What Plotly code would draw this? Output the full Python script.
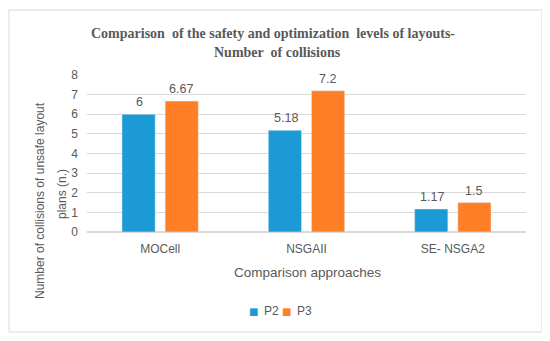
import plotly.graph_objects as go

categories = ["MOCell", "NSGAII", "SE- NSGA2"]
p2_values = [6, 5.18, 1.17]
p3_values = [6.67, 7.2, 1.5]
p2_labels = ["6", "5.18", "1.17"]
p3_labels = ["6.67", "7.2", "1.5"]
y_ticks = [0, 1, 2, 3, 4, 5, 6, 7, 8]

# the page body adds an 8px offset; figure is sized to fill the rest of the window
OFF = 8
W, H = 550 - OFF, 341 - OFF
L, R, T, B = 87 - OFF, 24, 75 - OFF, 109
PW, PH = W - L - R, H - T - B

def px_x(x):  # page pixel -> paper
    return (x - OFF - L) / PW

def px_y(y):
    return (H - B - (y - OFF)) / PH

gray = "#595959"
sans = "Liberation Sans"
blue = "#1C9AD6"
orange = "#FF7F27"

fig = go.Figure()
fig.add_trace(go.Bar(name="P2", x=categories, y=p2_values, marker_color=blue))
fig.add_trace(go.Bar(name="P3", x=categories, y=p3_values, marker_color=orange))

fig.update_layout(
    width=W, height=H,
    margin=dict(l=L, r=R, t=T, b=B, autoexpand=False),
    paper_bgcolor="white", plot_bgcolor="white",
    barmode="group", bargap=0.41, bargroupgap=0.23,
    font=dict(family=sans, color=gray, size=12),
    showlegend=False,
    xaxis=dict(showgrid=False, showline=False, ticks="", tickfont=dict(size=12, color=gray),
               ticklabelstandoff=8),
    yaxis=dict(range=[0, 8], tickvals=y_ticks, showgrid=True, gridcolor="#D9D9D9",
               gridwidth=1, zeroline=True, zerolinecolor="#D9D9D9", showline=False,
               ticks="", tickfont=dict(size=12, color=gray), ticklabelstandoff=8),
)

annotations = [
    dict(text="<b>Comparison  of the safety and optimization  levels of layouts-</b>",
         x=px_x(273), y=px_y(33), xref="paper", yref="paper", showarrow=False,
         xanchor="center", yanchor="middle",
         font=dict(family="Liberation Serif", size=14, color=gray)),
    dict(text="<b>Number  of collisions</b>",
         x=px_x(277), y=px_y(52), xref="paper", yref="paper", showarrow=False,
         xanchor="center", yanchor="middle",
         font=dict(family="Liberation Serif", size=14, color=gray)),
    dict(text="Number of collisions of unsafe layout",
         x=px_x(40), y=px_y(201), xref="paper", yref="paper", showarrow=False,
         xanchor="center", yanchor="middle", textangle=-90,
         font=dict(family=sans, size=12, color=gray)),
    dict(text="plans (n.)",
         x=px_x(62), y=px_y(194), xref="paper", yref="paper", showarrow=False,
         xanchor="center", yanchor="middle", textangle=-90,
         font=dict(family=sans, size=12, color=gray)),
    dict(text="Comparison approaches",
         x=px_x(307), y=px_y(272), xref="paper", yref="paper", showarrow=False,
         xanchor="center", yanchor="middle",
         font=dict(family=sans, size=13.5, color=gray)),
]

# legend (compact, like the original)
legend_items = [("P2", blue, 253, 262), ("P3", orange, 286, 295)]
for name, col, sx, tx in legend_items:
    annotations.append(dict(text="■", x=px_x(sx), y=px_y(311), xref="paper", yref="paper",
                            showarrow=False, xanchor="center", yanchor="middle",
                            font=dict(family="DejaVu Sans", size=10, color=col)))
    annotations.append(dict(text=name, x=px_x(tx), y=px_y(311), xref="paper", yref="paper",
                            showarrow=False, xanchor="left", yanchor="middle",
                            font=dict(family=sans, size=12, color=gray)))

# data labels placed at the bar tops through the axis scales
for vals, labels, shift in ((p2_values, p2_labels, -21), (p3_values, p3_labels, 21)):
    for c, v, t in zip(categories, vals, labels):
        annotations.append(dict(text=t, x=c, y=v, xref="x", yref="y", showarrow=False,
                                xanchor="center", yanchor="bottom", xshift=shift, yshift=3,
                                font=dict(family=sans, size=12.5, color=gray)))

fig.update_layout(annotations=annotations)

fig.add_shape(type="rect", xref="paper", yref="paper",
              x0=px_x(9), x1=px_x(542), y0=px_y(332), y1=px_y(10),
              line=dict(color="#D9D9D9", width=1), fillcolor="rgba(0,0,0,0)", layer="below")

fig.write_html("out.html")
